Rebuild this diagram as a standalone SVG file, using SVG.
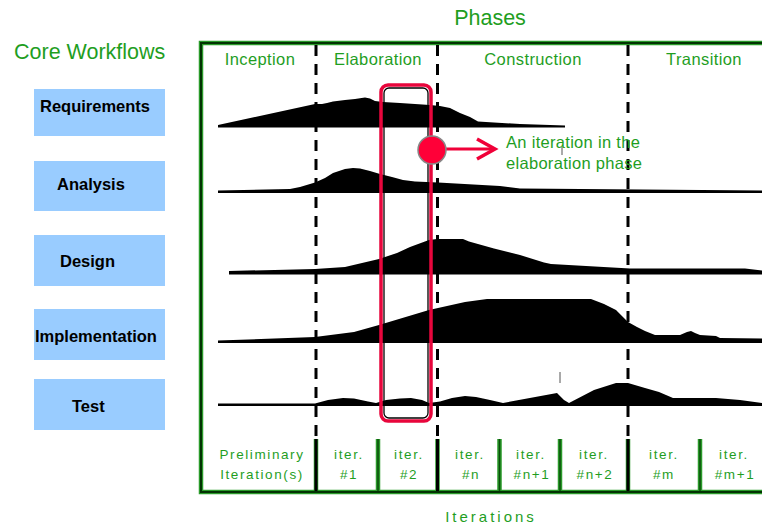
<svg xmlns="http://www.w3.org/2000/svg" width="762" height="527" viewBox="0 0 762 527">
<style>
.g{fill:#1f9e1f;font-family:"Liberation Sans",Arial,sans-serif}
.h{font-size:21.5px}
.ph{font-size:16.5px;letter-spacing:0.4px;text-anchor:middle}
.it{font-size:13.5px;letter-spacing:1.6px;text-anchor:middle}
.box{fill:#99ccff}
.bl{font-family:"Liberation Sans",Arial,sans-serif;font-weight:bold;font-size:16.5px;fill:#000}
.hump{fill:#000}
.dash{stroke:#000;stroke-width:3;stroke-dasharray:11 8;fill:none}
.frameO{stroke:#2a9a2a;stroke-width:4.5;fill:none}
.frameI{stroke:#033303;stroke-width:2;fill:none}
.divP{stroke:#000;stroke-width:3}
.divO{stroke:#2a9a2a;stroke-width:4.5}
.divI{stroke:#0b4d0b;stroke-width:1.5}
.tick{stroke:#555;stroke-width:1}
</style>

<text class="g h" x="14" y="59">Core Workflows</text>
<text class="g h" x="490" y="25" text-anchor="middle">Phases</text>

<g id="frame">
<path class="frameO" d="M762,43 H201 V492 H762"/>
<path class="frameI" d="M762,43 H201 V492 H762"/>
</g>

<g id="phase-labels">
<text class="g ph" x="260" y="65">Inception</text>
<text class="g ph" x="378" y="65">Elaboration</text>
<text class="g ph" x="533" y="65">Construction</text>
<text class="g ph" x="704" y="65">Transition</text>
</g>

<g id="wf-requirements"><rect class="box" x="34" y="89" width="131" height="47"/><text class="bl" x="40" y="112">Requirements</text></g>
<g id="wf-analysis"><rect class="box" x="34" y="161" width="131" height="50"/><text class="bl" x="57" y="190">Analysis</text></g>
<g id="wf-design"><rect class="box" x="34" y="235" width="131" height="51"/><text class="bl" x="60" y="267">Design</text></g>
<g id="wf-implementation"><rect class="box" x="34" y="309" width="131" height="51"/><text class="bl" x="35" y="342">Implementation</text></g>
<g id="wf-test"><rect class="box" x="34" y="379" width="131" height="51"/><text class="bl" x="72" y="412">Test</text></g>

<g id="humps">
<path class="hump" d="M218,127.5 L218,125 L315,104 L322,104 L327,103 L333,101.5 L345,100 L355,99 L365,97.5 L370,98.5 L375,101 L383,102 L400,103 L430,105 L440,106 L450,108 L460,113 L470,117 L478,121.5 L520,124 L565,125.5 L565,127.5 Z"/>
<path class="hump" d="M218,193 L218,190.5 L290,189 L300,187 L315,182.5 L325,178 L333,173 L345,169 L353,168 L360,168.5 L370,171 L380,174 L392,177 L403,180 L415,181.5 L438,182.5 L500,186 L520,188.5 L762,190.5 L762,193 Z"/>
<path class="hump" d="M229,274.5 L229,271 L315,269 L345,267 L379,259 L397,253 L410,247 L429,240 L437,239 L463,239 L469,241.5 L494,248.5 L520,255 L544,262.5 L551,264 L630,268.5 L745,268.5 L762,270.5 L762,274.5 Z"/>
<path class="hump" d="M218,343 L218,340.5 L315,337 L354,332 L379,325 L429,310 L465,302 L487,299 L591,299 L604,304 L616,310 L628,322 L637,327 L645,331 L655,335 L680,335 L687,332 L691,331 L695,333 L700,335 L716,336 L720,338 L762,338.5 L762,343 Z"/>
<path class="hump" d="M218,406 L218,403.5 L315,403.5 L328,400 L343,398 L354,398.5 L368,401.5 L376,403 L386,400 L400,398.5 L411,398 L422,400 L429,403 L440,401.5 L452,398 L465,396 L476,397 L490,400 L503,403 L557,393 L564,400 L569,403 L594,390 L616,383 L628,383 L645,388 L659,392 L673,398 L716,398 L740,400 L762,403 L762,406 Z"/>
<line class="tick" x1="560" y1="372" x2="560" y2="383"/>
<line class="tick" x1="562" y1="147" x2="562" y2="155"/>
</g>

<g id="phase-dividers">
<line class="dash" x1="316" y1="45" x2="316" y2="440"/>
<line class="dash" x1="437.5" y1="45" x2="437.5" y2="440"/>
<line class="dash" x1="628" y1="45" x2="628" y2="440"/>
</g>

<g id="iteration-row">
<g stroke-linecap="butt">
<line class="divO" x1="316" y1="439" x2="316" y2="491"/><line class="divP" x1="316" y1="439" x2="316" y2="491"/>
<line class="divO" x1="437.5" y1="439" x2="437.5" y2="491"/><line class="divP" x1="437.5" y1="439" x2="437.5" y2="491"/>
<line class="divO" x1="628" y1="439" x2="628" y2="491"/><line class="divP" x1="628" y1="439" x2="628" y2="491"/>
<line class="divO" x1="378" y1="439" x2="378" y2="491"/><line class="divI" x1="378" y1="439" x2="378" y2="491"/>
<line class="divO" x1="499.5" y1="439" x2="499.5" y2="491"/><line class="divI" x1="499.5" y1="439" x2="499.5" y2="491"/>
<line class="divO" x1="560" y1="439" x2="560" y2="491"/><line class="divI" x1="560" y1="439" x2="560" y2="491"/>
<line class="divO" x1="700" y1="439" x2="700" y2="491"/><line class="divI" x1="700" y1="439" x2="700" y2="491"/>
</g>
<text class="g it" x="262" y="459">Preliminary</text>
<text class="g it" x="262" y="479">Iteration(s)</text>
<text class="g it" x="349" y="459">iter.</text><text class="g it" x="349" y="479">#1</text>
<text class="g it" x="409" y="459">iter.</text><text class="g it" x="409" y="479">#2</text>
<text class="g it" x="470" y="459">iter.</text><text class="g it" x="471" y="479">#n</text>
<text class="g it" x="531" y="459">iter.</text><text class="g it" x="532" y="479">#n+1</text>
<text class="g it" x="594" y="459">iter.</text><text class="g it" x="595" y="479">#n+2</text>
<text class="g it" x="664" y="459">iter.</text><text class="g it" x="664" y="479">#m</text>
<text class="g it" x="734" y="459">iter.</text><text class="g it" x="735" y="479">#m+1</text>
</g>
<text class="g" x="491" y="522" font-size="15" letter-spacing="3" text-anchor="middle">Iterations</text>

<g id="iteration-box">
<rect x="381" y="85" width="50" height="336" rx="7" fill="none" stroke="#e8063c" stroke-width="3.5"/>
<rect x="384" y="88" width="44" height="330" rx="5" fill="none" stroke="#000" stroke-width="1.3"/>
</g>

<g id="connectors">
<line x1="446" y1="149" x2="494" y2="149" stroke="#f00038" stroke-width="3"/>
<path d="M477,139 L495,149 L477,159" fill="none" stroke="#f00038" stroke-width="3.5"/>
</g>
<g id="marker">
<circle cx="432" cy="150" r="14" fill="#ff0038" stroke="#888" stroke-width="1.5"/>
</g>
<g id="annotation">
<text class="g" x="506" y="148" font-size="16.5" letter-spacing="0.3">An iteration in the</text>
<text class="g" x="506" y="169" font-size="16.5" letter-spacing="0.3">elaboration phase</text>
</g>
</svg>
